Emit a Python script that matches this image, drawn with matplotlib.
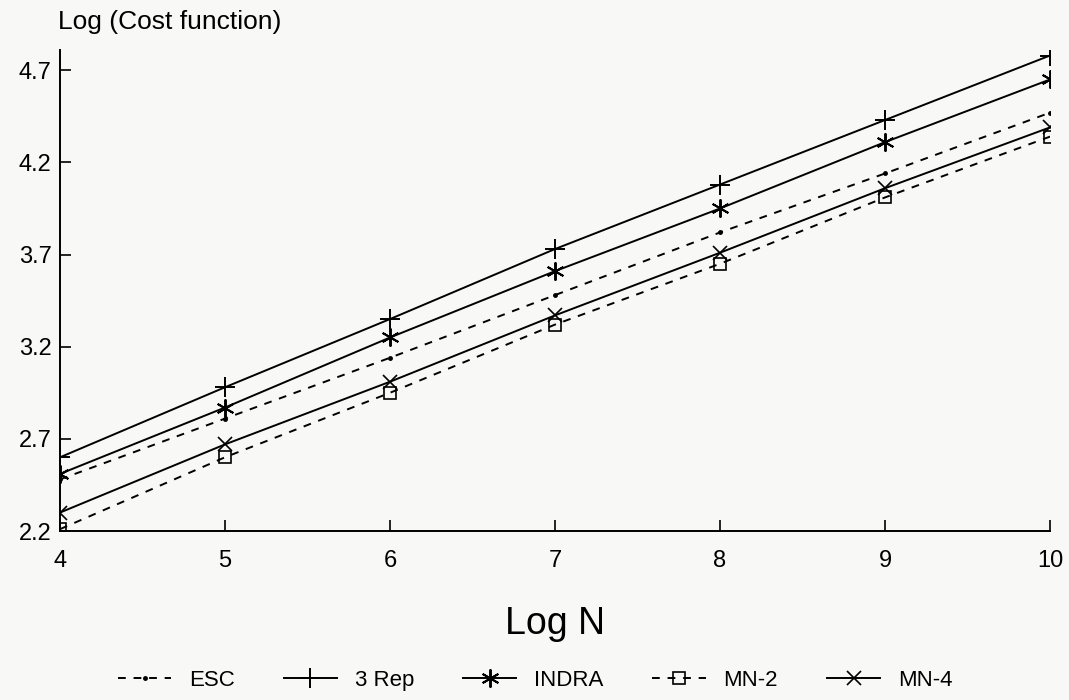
import matplotlib
matplotlib.use("Agg")
import matplotlib.pyplot as plt

# values (Log N vs Log cost)
log_n = [4, 5, 6, 7, 8, 9, 10]
esc = [2.48, 2.81, 3.14, 3.48, 3.82, 4.14, 4.47]
rep3 = [2.60, 2.98, 3.35, 3.73, 4.08, 4.43, 4.78]
indra = [2.51, 2.87, 3.25, 3.61, 3.95, 4.31, 4.65]
mn2 = [2.21, 2.60, 2.95, 3.32, 3.65, 4.01, 4.34]
mn4 = [2.30, 2.67, 3.01, 3.37, 3.71, 4.06, 4.39]

y_ticks = [2.2, 2.7, 3.2, 3.7, 4.2, 4.7]
x_ticks = [4, 5, 6, 7, 8, 9, 10]

plt.rcParams['font.family'] = ['Liberation Sans', 'DejaVu Sans']

fig = plt.figure(figsize=(10.69, 7.0), dpi=100)
fig.patch.set_facecolor('#f8f8f6')
ax = fig.add_axes([60 / 1069, 1 - 531 / 700, 990 / 1069, 481 / 700])
ax.set_facecolor('#f8f8f6')

lw = 1.4
ax.plot(log_n, esc, color='black', lw=lw, ls=(0, (4, 4)), marker='.', ms=5, label='ESC')
ax.plot(log_n, rep3, color='black', lw=lw, marker='+', ms=14, mew=1.4, label='3 Rep')
ax.plot(log_n, indra, color='black', lw=lw, marker=(6, 2, 0), ms=13, mew=1.4, label='INDRA')
ax.plot(log_n, mn2, color='black', lw=lw, ls=(0, (4, 4)), marker='s', ms=9, mfc='none',
        mew=1.2, label='MN-2')
ax.plot(log_n, mn4, color='black', lw=lw, marker='x', ms=10, mew=1.2, label='MN-4')

ax.set_xlim(4, 10)
ax.set_ylim(2.2, 4.81)
ax.set_xticks(x_ticks)
ax.set_yticks(y_ticks)
ax.set_yticklabels([f"{t:.1f}" for t in y_ticks])

for side in ['top', 'right']:
    ax.spines[side].set_visible(False)
for side in ['left', 'bottom']:
    ax.spines[side].set_linewidth(1.4)
ax.tick_params(axis='both', direction='in', length=8, width=1.2, labelsize=17)
ax.tick_params(axis='y', pad=6)
ax.tick_params(axis='x', pad=14)

fig.text(58 / 1069, 1 - 22 / 700, 'Log (Cost function)', fontsize=19,
         ha='left', va='center')
ax.set_xlabel('Log N', fontsize=27, labelpad=24)

ax.legend(loc='center', bbox_to_anchor=(0.48, -0.31), ncol=5, frameon=False,
          fontsize=16, handlelength=2.4, columnspacing=2.2, handletextpad=0.8)

fig.savefig('out.png', dpi=100, facecolor=fig.get_facecolor())
